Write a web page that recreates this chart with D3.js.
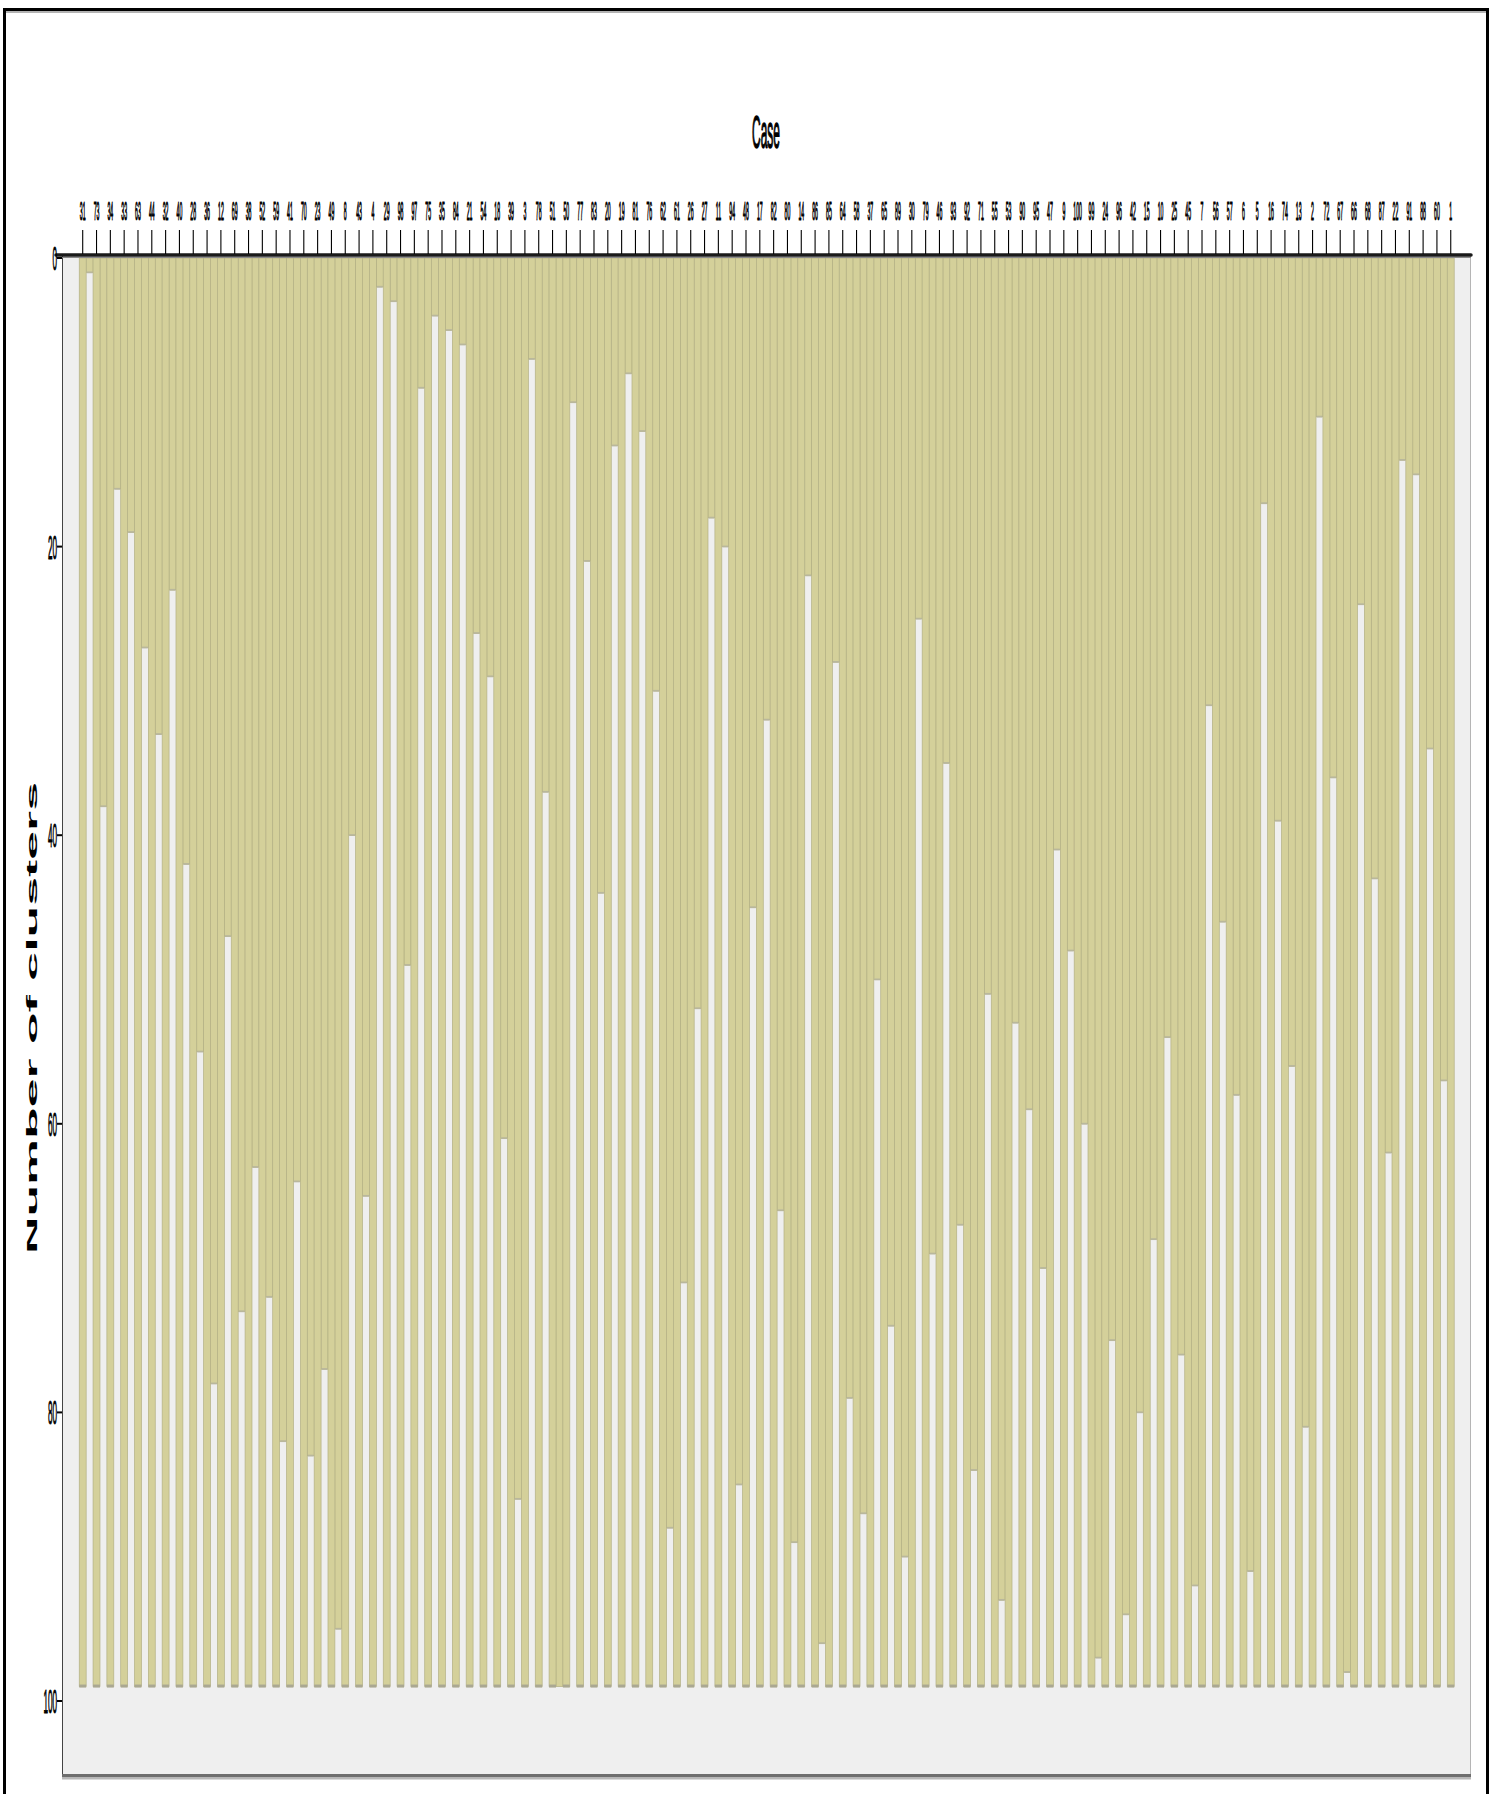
<!DOCTYPE html>
<html>
<head>
<meta charset="utf-8">
<script src="https://cdn.jsdelivr.net/npm/d3@7"></script>
<style>
  body { margin: 0; background: #fff; }
  svg { display: block; }
  text { font-family: "Liberation Sans", Arial, sans-serif; fill: #000; }
</style>
</head>
<body>
<svg id="chart" width="1492" height="1794"></svg>
<script>
// Case order along the top of the icicle plot
const caseLabels = ["31","73","34","33","63","44","32","40","28","36","12","69","38","52","59","41","70","23","49","8",
  "43","4","29","98","97","75","35","84","21","54","18","39","3","78","51","50","77","83","20","19",
  "81","76","62","61","26","27","11","94","48","17","82","80","14","86","85","64","58","37","65","89",
  "30","79","46","93","92","71","55","53","90","95","47","9","100","99","24","96","42","15","10","25",
  "45","7","56","57","6","5","16","74","13","2","72","67","66","68","87","22","91","88","60","1"];

// Number of clusters down to which each pair of neighbouring cases stays joined
const joinLevels = [1,38,16,19,27,33,23,42,55,78,47,73,63,72,82,64,83,77,95,40,
  65,2,3,49,9,4,5,6,26,29,61,86,7,37,99,10,21,44,13,8,
  12,30,88,71,52,18,20,85,45,32,66,89,22,96,28,79,87,50,74,90,
  25,69,35,67,84,51,93,53,59,70,41,48,60,97,75,94,80,68,54,76,
  92,31,46,58,91,17,39,56,81,11,36,98,24,43,62,14,15,34,57];

const clusterRows = 99;
const yTicks = [0, 20, 40, 60, 80, 100];

const OLIVE = "#d4d09a";
const EDGE = "#b3b084";
const PLOT_BG = "#efefef";

const svg = d3.select("#chart");

// Slots alternate: case column, gap, case column, gap, ...
const slots = d3.range(caseLabels.length * 2 - 1);
const x = d3.scaleBand().domain(slots).range([79.25, 1454.2]).padding(0);
const y = d3.scaleLinear().domain([0, 100]).range([258, 1701]);
const bw = x.bandwidth();

// Outer frame
svg.append("path")
  .attr("d", "M4.5,1794 V9.5 H1487.5 V1794")
  .attr("fill", "none").attr("stroke", "#000").attr("stroke-width", 3);
svg.append("line").attr("x1", 6).attr("x2", 1486).attr("y1", 12).attr("y2", 12)
  .attr("stroke", "#9a9a9a").attr("stroke-width", 1.5);

// Plot panel
svg.append("rect").attr("x", 62).attr("y", 255).attr("width", 1409).attr("height", 1520)
  .attr("fill", PLOT_BG);
svg.append("line").attr("x1", 62.5).attr("x2", 62.5).attr("y1", 255).attr("y2", 1776)
  .attr("stroke", "#444").attr("stroke-width", 1);
svg.append("line").attr("x1", 1470.5).attr("x2", 1470.5).attr("y1", 255).attr("y2", 1776)
  .attr("stroke", "#b5b5b5").attr("stroke-width", 1);
svg.append("rect").attr("x", 62).attr("y", 1774).attr("width", 1409).attr("height", 3.5)
  .attr("fill", "#6e6e6e");
svg.append("rect").attr("x", 62).attr("y", 1777.5).attr("width", 1409).attr("height", 2)
  .attr("fill", "#b8b8b8");

const plot = svg.append("g");

// Joined stretches between neighbouring cases
plot.selectAll("rect.gap").data(joinLevels).join("rect")
  .attr("class", "gap")
  .attr("x", (d, i) => x(2 * i + 1))
  .attr("y", y(0))
  .attr("width", bw)
  .attr("height", d => y(d) - y(0))
  .attr("fill", OLIVE)
  .attr("stroke", EDGE).attr("stroke-width", 0.7);

// Shading where each gap opens
const openGaps = joinLevels.map((v, i) => ({ v, i })).filter(g => g.v < clusterRows);
plot.selectAll("rect.gapEdge").data(openGaps).join("rect")
  .attr("class", "gapEdge")
  .attr("x", g => x(2 * g.i + 1) + 0.5)
  .attr("y", g => y(g.v) - 1)
  .attr("width", bw - 1)
  .attr("height", 1.8)
  .attr("fill", "#b9b79c");

// Case columns
plot.selectAll("rect.case").data(caseLabels).join("rect")
  .attr("class", "case")
  .attr("x", (d, i) => x(2 * i))
  .attr("y", y(0))
  .attr("width", bw)
  .attr("height", y(clusterRows) - y(0))
  .attr("fill", OLIVE)
  .attr("stroke", EDGE).attr("stroke-width", 0.7);

// Soft shadow at the foot of each column
plot.selectAll("rect.foot").data(caseLabels).join("rect")
  .attr("class", "foot")
  .attr("x", (d, i) => x(2 * i))
  .attr("y", y(clusterRows) - 2)
  .attr("width", bw)
  .attr("height", 3)
  .attr("fill", "#aaa892");

// Top axis with case labels
const caseCenter = i => x(2 * i) + bw / 2;
svg.append("line").attr("x1", 56).attr("x2", 1471).attr("y1", 255).attr("y2", 255)
  .attr("stroke", "#1a1a1a").attr("stroke-width", 3.5).attr("stroke-linecap", "round");
svg.append("line").attr("x1", 56).attr("x2", 1471).attr("y1", 257.5).attr("y2", 257.5)
  .attr("stroke", "#8a8a8a").attr("stroke-width", 1);

svg.selectAll("line.caseTick").data(caseLabels).join("line")
  .attr("class", "caseTick")
  .attr("x1", (d, i) => caseCenter(i)).attr("x2", (d, i) => caseCenter(i))
  .attr("y1", 230).attr("y2", 254)
  .attr("stroke", "#000").attr("stroke-width", 1.1);

svg.selectAll("text.caseLabel").data(caseLabels).join("text")
  .attr("class", "caseLabel")
  .attr("text-anchor", "middle")
  .attr("font-size", 26)
  .attr("stroke", "#000").attr("stroke-width", 1.2)
  .attr("transform", (d, i) => `translate(${caseCenter(i)},220) scale(0.2,1)`)
  .text(d => d);

// Case title
svg.append("text")
  .attr("text-anchor", "middle")
  .attr("font-size", 46)
  .attr("stroke", "#000").attr("stroke-width", 1.5)
  .attr("transform", "translate(766,148) scale(0.26,1)")
  .text("Case");

// Left axis
svg.selectAll("line.yTick").data(yTicks).join("line")
  .attr("class", "yTick")
  .attr("x1", 57).attr("x2", 62)
  .attr("y1", d => y(d)).attr("y2", d => y(d))
  .attr("stroke", "#000").attr("stroke-width", 2);

svg.selectAll("text.yLabel").data(yTicks).join("text")
  .attr("class", "yLabel")
  .attr("text-anchor", "end")
  .attr("font-size", 34)
  .attr("stroke", "#000").attr("stroke-width", 1)
  .attr("transform", d => `translate(57,${y(d) + 12}) scale(0.24,1)`)
  .text(d => d);

svg.append("text")
  .attr("text-anchor", "middle")
  .attr("font-size", 14)
  .attr("font-weight", "bold")
  .attr("transform", "translate(37,1018) rotate(-90) scale(3.7,1)")
  .text("Number of clusters");
</script>
</body>
</html>
